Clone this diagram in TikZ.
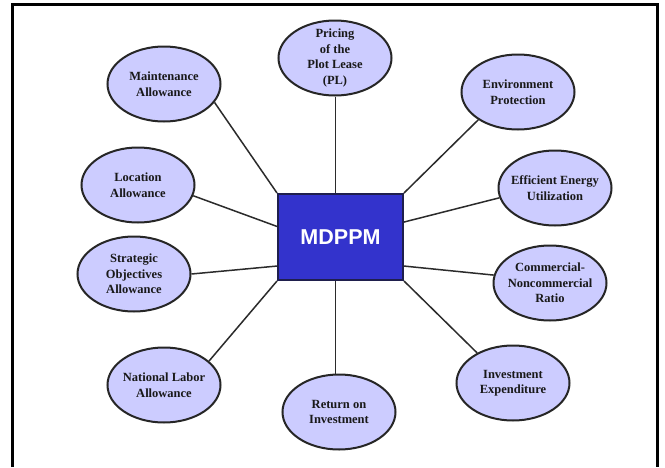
\documentclass[tikz,border=0pt]{standalone}
\usepackage{fontspec}
\setmainfont{Liberation Serif}
\newfontfamily\arialf{Liberation Sans}
\usetikzlibrary{shapes.geometric,calc}
\definecolor{elfill}{HTML}{CCCCFF}
\definecolor{boxfill}{HTML}{3333CC}
\definecolor{boxdraw}{HTML}{1F1F4D}
\definecolor{linec}{HTML}{2B2B2B}
\tikzset{
  bub/.style={ellipse, draw=black!85, line width=2pt, fill=elfill,
    minimum width=113pt, minimum height=75pt, inner sep=0pt},
  bubtext/.style={align=center, inner sep=0pt,
    font=\fontsize{12.5}{15.5}\selectfont\bfseries, text=black!90},
  conn/.style={draw=linec, line width=1.5pt},
  hub/.style={draw=boxdraw, line width=2pt, fill=boxfill,
    minimum width=125pt, minimum height=86pt, inner sep=0pt, text=white,
    font=\arialf\bfseries\fontsize{21.5}{24}\selectfont}
}
\begin{document}
\begin{tikzpicture}[x=1pt,y=-1pt]
\useasboundingbox (0,0) rectangle (665,467);
\fill[white] (0,0) rectangle (665,467);
\draw[line width=3pt] (12,467) -- (12,4) -- (657,4) -- (657,467);

\node[hub] (box) at (340.5,237) {MDPPM};

\node[bub] (pricing) at (335,58) {};
\node[bubtext] (pricingT) at (pricing) {Pricing\\of the\\Plot Lease\\(PL)};
\node[bub] (maint) at (164,84) {};
\node[bubtext] (maintT) at (maint) {Maintenance\\Allowance};
\node[bub] (env) at (518,92) {};
\node[bubtext] (envT) at (env) {Environment\\Protection};
\node[bub] (loc) at (138,185) {};
\node[bubtext] (locT) at (loc) {Location\\Allowance};
\node[bub] (eff) at (555,188) {};
\node[bubtext] (effT) at (eff) {Efficient Energy\\Utilization};
\node[bub] (strat) at (134,274) {};
\node[bubtext] (stratT) at (strat) {Strategic\\Objectives\\Allowance};
\node[bub] (comm) at (550,283) {};
\node[bubtext] (commT) at (comm) {Commercial-\\Noncommercial\\Ratio};
\node[bub] (natl) at (164,385) {};
\node[bubtext] (natlT) at (natl) {National Labor\\Allowance};
\node[bub] (ret) at (339,412) {};
\node[bubtext] (retT) at (ret) {Return on\\Investment};
\node[bub] (inv) at (513,383) {};
\node[bubtext] (invT) at (inv) {Investment\\Expenditure};

\coordinate (bN) at ($(box.north west)!0.46!(box.north east)$);
\coordinate (bS) at ($(box.south west)!0.46!(box.south east)$);
\coordinate (bW1) at ($(box.north west)!0.38!(box.south west)$);
\coordinate (bW2) at ($(box.north west)!0.83!(box.south west)$);
\coordinate (bE1) at ($(box.north east)!0.33!(box.south east)$);
\coordinate (bE2) at ($(box.north east)!0.83!(box.south east)$);

\begin{scope}[on background layer/.style={}]
\draw[conn] (pricing.south -| bN) -- (bN);
\draw[conn] (maint.-20) -- (box.north west);
\draw[conn] (env.215) -- (box.north east);
\draw[conn] (eff.190) -- (bE1);
\draw[conn] (loc.-11) -- (bW1);
\draw[conn] (strat.east) -- (bW2);
\draw[conn] (comm.172) -- (bE2);
\draw[conn] (natl.28) -- (box.south west);
\draw[conn] (bS) -- (bS |- ret.north);
\draw[conn] (inv.140) -- (box.south east);
\end{scope}
\end{tikzpicture}
\end{document}
